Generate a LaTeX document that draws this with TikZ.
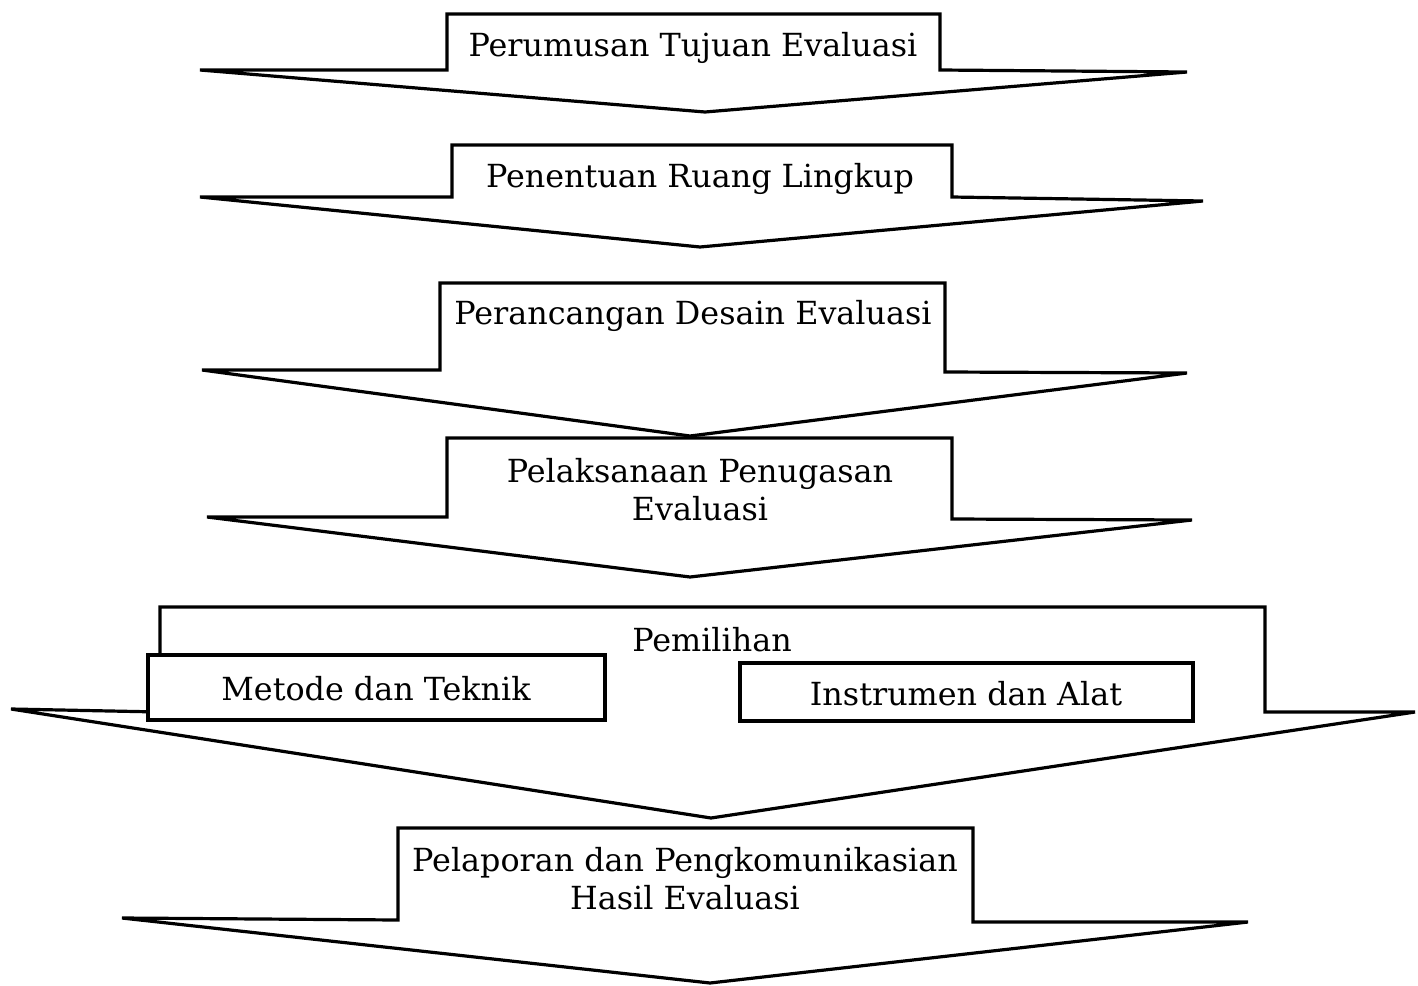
\documentclass[tikz,border=0pt]{standalone}
\usepackage{fontspec}
\setmainfont{DejaVu Serif}
\begin{document}
\begin{tikzpicture}[x=0.5pt,y=-0.5pt,
  shp/.style={draw=black,line width=1.6pt,fill=white,line join=miter},
  lbl/.style={font=\fontsize{15.9}{19}\selectfont,align=center,inner sep=0pt,anchor=center},
  subbox/.style={draw=black,line width=1.6pt,fill=white}]
\useasboundingbox (0,0) rectangle (1418,985);
% shape 1
\draw[shp] (200,70) -- (447,70) -- (447,14) -- (940,14) -- (940,70) -- (1187,72) -- (705,112) -- cycle;
\node[lbl] (t1) at (693,48) {Perumusan Tujuan Evaluasi};
% shape 2
\draw[shp] (200,197) -- (452,197) -- (452,145) -- (952,145) -- (952,197) -- (1203,201) -- (700,247) -- cycle;
\node[lbl] (t2) at (700,179) {Penentuan Ruang Lingkup};
% shape 3
\draw[shp] (202,370) -- (440,370) -- (440,283) -- (945,283) -- (945,372) -- (1187,373) -- (690,436) -- cycle;
\node[lbl] (t3) at (693,316) {Perancangan Desain Evaluasi};
% shape 4
\draw[shp] (207,517) -- (447,517) -- (447,438) -- (952,438) -- (952,519) -- (1192,520) -- (690,577) -- cycle;
\node[lbl] (t4) at (700,490) {Pelaksanaan Penugasan\\Evaluasi};
% shape 5
\draw[shp] (11,709) -- (160,712) -- (160,607) -- (1265,607) -- (1265,712) -- (1415,712) -- (711,818) -- cycle;
\node[lbl] (t5) at (712,640) {Pemilihan};
\draw[subbox] (148,655) rectangle (605,720);
\node[lbl] (t5a) at (376,689) {Metode dan Teknik};
\draw[subbox] (740,663) rectangle (1193,721);
\node[lbl] (t5b) at (966,694) {Instrumen dan Alat};
% shape 6
\draw[shp] (122,918) -- (398,920) -- (398,828) -- (973,828) -- (973,922) -- (1248,922) -- (710,983) -- cycle;
\node[lbl] (t6) at (685,879) {Pelaporan dan Pengkomunikasian\\Hasil Evaluasi};
\end{tikzpicture}
\end{document}
